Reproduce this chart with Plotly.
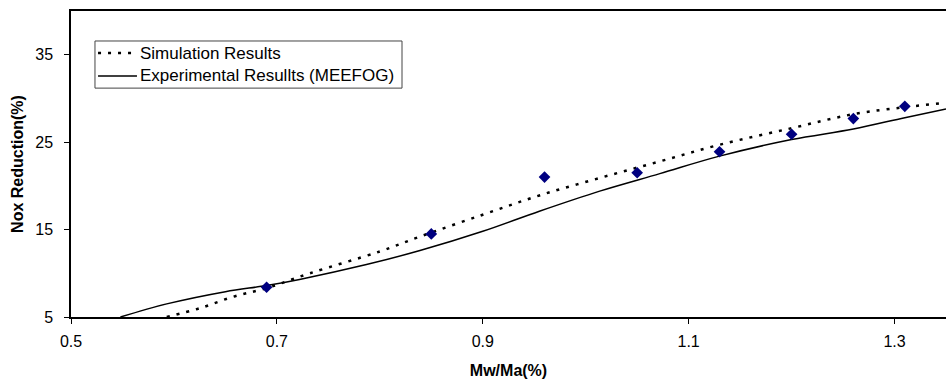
import plotly.graph_objects as go

# Measured data points (diamonds)
pts_x = [0.69, 0.85, 0.96, 1.05, 1.13, 1.20, 1.26, 1.31]
pts_y = [8.4, 14.5, 21.0, 21.5, 23.9, 25.9, 27.7, 29.1]

# Simulation results (dotted curve)
sim_x = [0.593, 0.625, 0.657, 0.69, 0.732, 0.80, 0.839, 0.90, 0.955, 1.0136, 1.072, 1.13, 1.20, 1.26, 1.31, 1.35]
sim_y = [5.0, 6.0, 7.3, 8.3, 10.0, 12.5, 14.2, 16.7, 18.9, 20.9, 22.8, 24.7, 26.6, 28.2, 29.0, 29.5]

# Experimental results (solid curve)
exp_x = [0.548, 0.593, 0.65, 0.69, 0.722, 0.787, 0.839, 0.90, 0.955, 1.0136, 1.072, 1.13, 1.20, 1.26, 1.31, 1.35]
exp_y = [5.0, 6.5, 7.9, 8.6, 9.3, 11.0, 12.6, 14.8, 17.1, 19.4, 21.4, 23.4, 25.3, 26.5, 27.8, 28.8]

x_ticks = [0.5, 0.7, 0.9, 1.1, 1.3]
y_ticks = [5, 15, 25, 35]

legend_names = ["Simulation Results", "Experimental Resullts (MEEFOG)"]

fig = go.Figure()
fig.add_trace(go.Scatter(x=sim_x, y=sim_y, mode="lines", name=legend_names[0], showlegend=False,
                         line=dict(color="black", width=2.5, dash="3px,7px", shape="spline")))
fig.add_trace(go.Scatter(x=exp_x, y=exp_y, mode="lines", name=legend_names[1], showlegend=False,
                         line=dict(color="black", width=1.5, shape="spline")))
fig.add_trace(go.Scatter(x=pts_x, y=pts_y, mode="markers", showlegend=False,
                         marker=dict(symbol="diamond", color="#000080", size=9)))

# Legend box (drawn in paper coordinates to match the compact original legend)
lx0, lx1, ly0, ly1 = 0.0274, 0.3783, 0.748, 0.902
row_y = [0.8627, 0.7876]
sx0, sx1, tx = 0.0309, 0.0754, 0.0789
shapes = [
    dict(type="rect", xref="paper", yref="paper", x0=lx0, x1=lx1, y0=ly0, y1=ly1,
         line=dict(color="#444", width=1), fillcolor="white", layer="above"),
    dict(type="line", xref="paper", yref="paper", x0=sx0, x1=sx1, y0=row_y[0], y1=row_y[0],
         line=dict(color="black", width=2.5, dash="3px,7px"), layer="above"),
    dict(type="line", xref="paper", yref="paper", x0=sx0, x1=sx1, y0=row_y[1], y1=row_y[1],
         line=dict(color="black", width=1.5), layer="above"),
]
annotations = [
    dict(xref="paper", yref="paper", x=tx, y=row_y[i], text=legend_names[i], showarrow=False,
         xanchor="left", yanchor="middle", font=dict(size=17), xshift=-2)
    for i in range(2)
]

fig.update_layout(
    width=946, height=380,
    margin=dict(l=71, r=0, t=11, b=63),
    paper_bgcolor="white", plot_bgcolor="white",
    font=dict(family="Liberation Sans, Arial, sans-serif", color="black", size=16),
    showlegend=False,
    shapes=shapes,
    annotations=annotations,
    xaxis=dict(range=[0.5, 1.35], tickvals=x_ticks, ticktext=[str(v) for v in x_ticks],
               showgrid=False, zeroline=False, showline=True, linecolor="black", linewidth=1.5,
               mirror=True, ticks="outside", ticklen=5, tickcolor="black", automargin=False,
               ticklabelstandoff=4,
               title=dict(text="<b>Mw/Ma(%)</b>", font=dict(size=16), standoff=16)),
    yaxis=dict(range=[5, 40], tickvals=y_ticks, showgrid=False, zeroline=False,
               showline=True, linecolor="black", linewidth=1.5, ticks="outside", ticklen=5,
               tickcolor="black", automargin=False, ticklabelstandoff=8,
               title=dict(text="<b>Nox Reduction(%)</b>", font=dict(size=16), standoff=8)),
)

fig.write_html("out.html", config={"displayModeBar": False},
               post_script="document.body.style.margin='0';")
